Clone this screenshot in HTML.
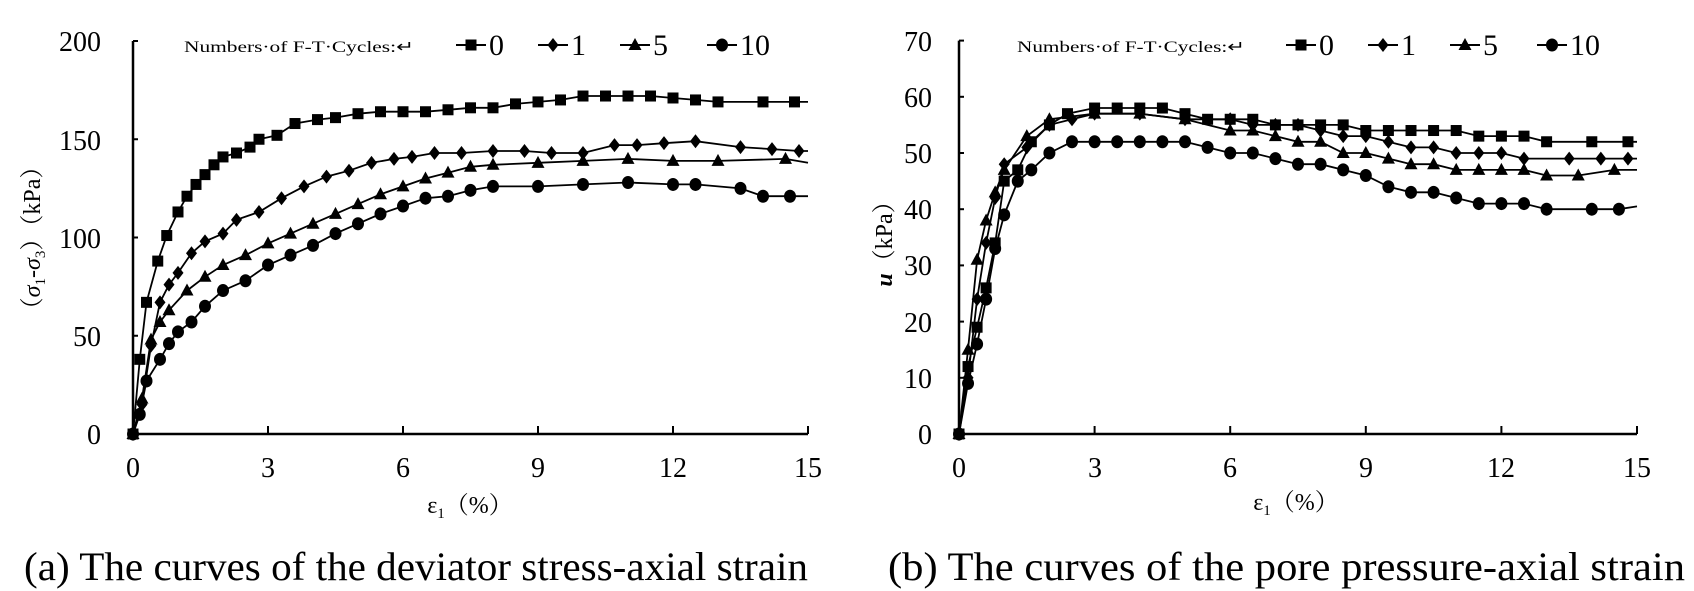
<!DOCTYPE html>
<html><head><meta charset="utf-8"><style>html,body{margin:0;padding:0;background:#fff}svg{display:block}svg text{font-family:"Liberation Serif","Noto Serif CJK SC",serif}</style></head>
<body>
<svg id="s" width="1694" height="591" viewBox="0 0 1694 591" xmlns="http://www.w3.org/2000/svg">
<rect width="1694" height="591" fill="#fff"/>
<g id="ga"></g><g id="gb"></g>
<!-- Chart A labels -->
<g font-size="28" text-anchor="end" fill="#000">
<text x="101" y="51">200</text><text x="101" y="150">150</text><text x="101" y="248">100</text><text x="101" y="346">50</text><text x="101" y="444">0</text>
</g>
<g font-size="28" text-anchor="middle">
<text x="133" y="477">0</text><text x="268" y="477">3</text><text x="403" y="477">6</text><text x="538" y="477">9</text><text x="673" y="477">12</text><text x="808" y="477">15</text>
</g>
<text x="470" y="513" font-size="24" text-anchor="middle">ε<tspan font-size="15" dy="5">1</tspan><tspan dy="-5">（%）</tspan></text>
<text transform="translate(40,238) rotate(-90)" font-size="24" text-anchor="middle">（<tspan font-style="italic">σ</tspan><tspan font-size="15" dy="5">1</tspan><tspan dy="-5">-</tspan><tspan font-style="italic">σ</tspan><tspan font-size="15" dy="5">3</tspan><tspan dy="-5">）（kPa）</tspan></text>
<text x="184" y="52" font-size="16" textLength="230" lengthAdjust="spacingAndGlyphs">Numbers·of F-T·Cycles:↵</text>
<text x="24" y="580" font-size="40" textLength="784" lengthAdjust="spacingAndGlyphs">(a) The curves of the deviator stress-axial strain</text>
<!-- Chart B labels -->
<g font-size="28" text-anchor="end">
<text x="932" y="51">70</text><text x="932" y="107">60</text><text x="932" y="163">50</text><text x="932" y="219">40</text><text x="932" y="275">30</text><text x="932" y="332">20</text><text x="932" y="388">10</text><text x="932" y="444">0</text>
</g>
<g font-size="28" text-anchor="middle">
<text x="959" y="477">0</text><text x="1095" y="477">3</text><text x="1230" y="477">6</text><text x="1366" y="477">9</text><text x="1501" y="477">12</text><text x="1637" y="477">15</text>
</g>
<text x="1296" y="510" font-size="24" text-anchor="middle">ε<tspan font-size="15" dy="5">1</tspan><tspan dy="-5">（%）</tspan></text>
<text transform="translate(892,238) rotate(-90)" font-size="24" text-anchor="middle"><tspan font-style="italic" font-weight="bold">u</tspan>（kPa）</text>
<text x="1017" y="52" font-size="16" textLength="228" lengthAdjust="spacingAndGlyphs">Numbers·of F-T·Cycles:↵</text>
<text x="888" y="580" font-size="40" textLength="797" lengthAdjust="spacingAndGlyphs">(b) The curves of the pore pressure-axial strain</text>
</svg>
<script>
var NS="http://www.w3.org/2000/svg";
function el(p,t,a){var e=document.createElementNS(NS,t);for(var k in a)e.setAttribute(k,a[k]);p.appendChild(e);return e;}
function marker(g,type,x,y){
 if(type==0) el(g,"rect",{x:x-5.5,y:y-5.5,width:11,height:11,fill:"#000"});
 else if(type==1) el(g,"polygon",{points:(x)+","+(y-7)+" "+(x+5.5)+","+y+" "+x+","+(y+7)+" "+(x-5.5)+","+y,fill:"#000"});
 else if(type==2) el(g,"polygon",{points:x+","+(y-7)+" "+(x+6.5)+","+(y+5)+" "+(x-6.5)+","+(y+5),fill:"#000"});
 else el(g,"ellipse",{cx:x,cy:y,rx:6,ry:6.5,fill:"#000"});
}
function chart(gid,x0,xs,y0,ys,ymax,ystep,series,legX){
 var g=document.getElementById(gid);
 el(g,"line",{x1:x0,y1:y0,x2:x0+15*xs,y2:y0,stroke:"#000","stroke-width":2.5});
 el(g,"line",{x1:x0,y1:y0,x2:x0,y2:y0-ymax*ys,stroke:"#000","stroke-width":2.5});
 for(var v=0;v<=ymax;v+=ystep) el(g,"line",{x1:x0,y1:y0-v*ys,x2:x0+5,y2:y0-v*ys,stroke:"#000","stroke-width":2});
 for(var e=3;e<=15;e+=3) el(g,"line",{x1:x0+e*xs,y1:y0,x2:x0+e*xs,y2:y0-8,stroke:"#000","stroke-width":2});
 series.forEach(function(s,i){
  var d=s.map(function(p,j){return (j?"L":"M")+(x0+p[0]*xs).toFixed(1)+","+(y0-p[1]*ys).toFixed(1);}).join("");
  el(g,"path",{d:d,fill:"none",stroke:"#000","stroke-width":1.8});
  s.forEach(function(p){if(p[0]<14.9) marker(g,i,x0+p[0]*xs,y0-p[1]*ys);});
 });
 var labs=["0","1","5","10"],lx=legX;
 for(var i=0;i<4;i++){
  el(g,"line",{x1:lx,y1:45,x2:lx+30,y2:45,stroke:"#000","stroke-width":2});
  marker(g,i,lx+15,45);
  var t=el(g,"text",{x:lx+33,y:55,"font-size":30});t.textContent=labs[i];
  lx+=(i==2?87:82);
 }
}
var A=[
[[0,0],[0.15,38],[0.3,67],[0.55,88],[0.75,101],[1,113],[1.2,121],[1.4,127],[1.6,132],[1.8,137],[2,141],[2.3,143],[2.6,146],[2.8,150],[3.2,152],[3.6,158],[4.1,160],[4.5,161],[5,163],[5.5,164],[6,164],[6.5,164],[7,165],[7.5,166],[8,166],[8.5,168],[9,169],[9.5,170],[10,172],[10.5,172],[11,172],[11.5,172],[12,171],[12.5,170],[13,169],[14,169],[14.7,169],[15,169]],
[[0,0],[0.2,15],[0.4,45],[0.6,67],[0.8,76],[1,82],[1.3,92],[1.6,98],[2,102],[2.3,109],[2.8,113],[3.3,120],[3.8,126],[4.3,131],[4.8,134],[5.3,138],[5.8,140],[6.2,141],[6.7,143],[7.3,143],[8,144],[8.7,144],[9.3,143],[10,143],[10.7,147],[11.2,147],[11.8,148],[12.5,149],[13.5,146],[14.2,145],[14.8,144],[15,144]],
[[0,0],[0.2,18],[0.4,48],[0.6,57],[0.8,63],[1.2,73],[1.6,80],[2,86],[2.5,91],[3,97],[3.5,102],[4,107],[4.5,112],[5,117],[5.5,122],[6,126],[6.5,130],[7,133],[7.5,136],[8,137],[9,138],[10,139],[11,140],[12,139],[13,139],[14.5,140],[15,138]],
[[0,0],[0.15,10],[0.3,27],[0.6,38],[0.8,46],[1,52],[1.3,57],[1.6,65],[2,73],[2.5,78],[3,86],[3.5,91],[4,96],[4.5,102],[5,107],[5.5,112],[6,116],[6.5,120],[7,121],[7.5,124],[8,126],[9,126],[10,127],[11,128],[12,127],[12.5,127],[13.5,125],[14,121],[14.6,121],[15,121]]];
var B=[
[[0,0],[0.2,12],[0.4,19],[0.6,26],[0.8,34],[1,45],[1.3,47],[1.6,52],[2,55],[2.4,57],[3,58],[3.5,58],[4,58],[4.5,58],[5,57],[5.5,56],[6,56],[6.5,56],[7,55],[7.5,55],[8,55],[8.5,55],[9,54],[9.5,54],[10,54],[10.5,54],[11,54],[11.5,53],[12,53],[12.5,53],[13,52],[14,52],[14.8,52],[15,52]],
[[0,0],[0.2,10],[0.4,24],[0.6,34],[0.8,42],[1,48],[1.5,51],[2,55],[2.5,56],[3,57],[4,57],[5,56],[6,56],[6.5,55],[7,55],[7.5,55],[8,54],[8.5,53],[9,53],[9.5,52],[10,51],[10.5,51],[11,50],[11.5,50],[12,50],[12.5,49],[13.5,49],[14.2,49],[14.8,49],[15,49]],
[[0,0],[0.2,15],[0.4,31],[0.6,38],[0.8,43],[1,47],[1.5,53],[2,56],[3,57],[4,57],[5,56],[6,54],[6.5,54],[7,53],[7.5,52],[8,52],[8.5,50],[9,50],[9.5,49],[10,48],[10.5,48],[11,47],[11.5,47],[12,47],[12.5,47],[13,46],[13.7,46],[14.5,47],[15,47]],
[[0,0],[0.2,9],[0.4,16],[0.6,24],[0.8,33],[1,39],[1.3,45],[1.6,47],[2,50],[2.5,52],[3,52],[3.5,52],[4,52],[4.5,52],[5,52],[5.5,51],[6,50],[6.5,50],[7,49],[7.5,48],[8,48],[8.5,47],[9,46],[9.5,44],[10,43],[10.5,43],[11,42],[11.5,41],[12,41],[12.5,41],[13,40],[14,40],[14.6,40],[15,40.5]]];
chart("ga",133,45,434,1.965,200,50,A,456);
chart("gb",959,45.2,434,5.62,70,10,B,1286);
</script>
</body></html>
